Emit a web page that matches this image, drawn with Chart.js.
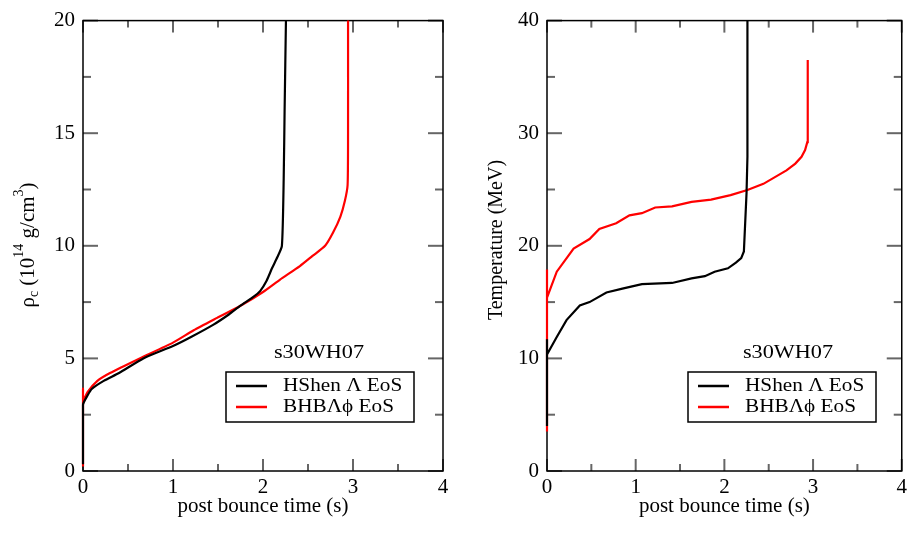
<!DOCTYPE html>
<html>
<head>
<meta charset="utf-8">
<script src="https://cdn.jsdelivr.net/npm/chart.js@4.4.0/dist/chart.umd.min.js"></script>
<style>
  body { margin: 0; background: #fff; }
  #wrap { position: relative; width: 911px; height: 538px; }
  #left { position: absolute; left: 0; top: 0; }
  #right { position: absolute; left: 460px; top: 0; }
</style>
</head>
<body>
<div id="wrap">
  <canvas id="left" width="460" height="538"></canvas>
  <canvas id="right" width="451" height="538"></canvas>
</div>
<script>
// central density, HShen Lambda EoS
const rhoShenT = [0, 0, 0.05, 0.1, 0.23, 0.4, 0.67, 1.0, 1.2, 1.45, 1.62, 1.75, 1.9, 1.97, 2.04, 2.1, 2.16, 2.21, 2.23, 2.24, 2.255];
const rhoShenV = [0.3, 2.94, 3.35, 3.65, 4.0, 4.35, 5.0, 5.55, 5.95, 6.5, 6.95, 7.34, 7.75, 8.0, 8.45, 9.0, 9.5, 10.0, 13.0, 16.0, 20];
// central density, BHB Lambda phi EoS
const rhoBhbT = [0, 0, 0, 0.05, 0.16, 0.3, 0.63, 1.0, 1.23, 1.49, 1.75, 2.0, 2.19, 2.41, 2.55, 2.69, 2.78, 2.86, 2.91, 2.94, 2.945, 2.945];
const rhoBhbV = [0.2, 3.65, 3.1, 3.5, 4.0, 4.35, 5.0, 5.7, 6.25, 6.8, 7.34, 7.95, 8.5, 9.1, 9.55, 10.0, 10.6, 11.3, 12.0, 12.7, 15, 20];
// central temperature, HShen Lambda EoS
const tempShenT = [0, 0, 0, 0.11, 0.22, 0.37, 0.48, 0.67, 0.85, 1.07, 1.41, 1.63, 1.78, 1.89, 2.04, 2.13, 2.19, 2.22, 2.25, 2.26, 2.26];
const tempShenV = [4.0, 11.7, 10.35, 11.9, 13.4, 14.7, 15.0, 15.85, 16.2, 16.6, 16.7, 17.1, 17.3, 17.7, 18.0, 18.5, 18.9, 19.5, 24.7, 27.9, 40];
// central temperature, BHB Lambda phi EoS
const tempBhbT = [0, 0, 0, 0.11, 0.30, 0.48, 0.59, 0.78, 0.93, 1.07, 1.22, 1.41, 1.63, 1.85, 2.07, 2.26, 2.44, 2.70, 2.80, 2.87, 2.91, 2.935, 2.94, 2.94];
const tempBhbV = [3.5, 17.9, 15.4, 17.7, 19.75, 20.6, 21.5, 22.0, 22.7, 22.9, 23.4, 23.5, 23.9, 24.1, 24.5, 24.96, 25.5, 26.7, 27.3, 27.9, 28.5, 29.2, 29.6, 36.5];

const seriesNames = ['HShen \u039b EoS', 'BHB\u039b\u03d5 EoS'];
const modelName = 's30WH07';
const xTitle = 'post bounce time (s)';
const tempTitle = 'Temperature (MeV)';

const SERIF = '"Liberation Serif", "DejaVu Serif", serif';

function pts(t, v) {
    return t.map((x, i) => ({ x: x, y: v[i] }));
}

function tick(ctx, x1, y1, x2, y2) {
    ctx.beginPath();
    ctx.moveTo(x1, y1);
    ctx.lineTo(x2, y2);
    ctx.stroke();
}

// frame, inward ticks, legend box, label and y-title
const decor = {
    id: 'decor',
    beforeDatasetsDraw(chart) {
        const ctx = chart.ctx;
        const a = chart.chartArea;
        const xs = chart.scales.x, ys = chart.scales.y;
        ctx.save();

        // ticks, on all four sides
        ctx.strokeStyle = '#666';
        ctx.lineWidth = 2;
        const xMaj = xs.ticks.map(t => t.value);
        const yMaj = ys.ticks.map(t => t.value);
        const xStep = xMaj[1] - xMaj[0], yStep = yMaj[1] - yMaj[0];
        xMaj.forEach((v, i) => {
            const px = xs.getPixelForValue(v);
            tick(ctx, px, a.bottom, px, a.bottom - 12);
            tick(ctx, px, a.top, px, a.top + 12);
            if (i < xMaj.length - 1) {
                const pm = xs.getPixelForValue(v + xStep / 2);
                tick(ctx, pm, a.bottom, pm, a.bottom - 7);
                tick(ctx, pm, a.top, pm, a.top + 7);
            }
        });
        yMaj.forEach((v, i) => {
            const py = ys.getPixelForValue(v);
            tick(ctx, a.left, py, a.left + 15, py);
            tick(ctx, a.right, py, a.right - 15, py);
            if (i < yMaj.length - 1) {
                const pm = ys.getPixelForValue(v + yStep / 2);
                tick(ctx, a.left, pm, a.left + 8, pm);
                tick(ctx, a.right, pm, a.right - 8, pm);
            }
        });

        // frame
        ctx.strokeStyle = '#000';
        ctx.lineWidth = 1.5;
        ctx.strokeRect(a.left, a.top, a.right - a.left, a.bottom - a.top);
        ctx.restore();
    },
    afterDatasetsDraw(chart, args, o) {
        const ctx = chart.ctx;
        ctx.save();

        // model label
        ctx.fillStyle = '#000';
        ctx.textBaseline = 'middle';
        ctx.textAlign = 'center';
        ctx.save();
        ctx.translate(o.labelX, 353);
        ctx.scale(1.17, 1);
        ctx.font = '19px ' + SERIF;
        ctx.fillText(modelName, 0, 0);
        ctx.restore();

        // legend
        const bx = o.legendX, by = 372, bw = 188, bh = 50;
        ctx.fillStyle = '#fff';
        ctx.fillRect(bx, by, bw, bh);
        ctx.strokeStyle = '#000';
        ctx.lineWidth = 1.5;
        ctx.strokeRect(bx, by, bw, bh);
        chart.data.datasets.forEach((ds, i) => {
            const ry = by + 14 + i * 21;
            ctx.strokeStyle = ds.borderColor;
            ctx.lineWidth = 2.5;
            tick(ctx, bx + 10, ry, bx + 41, ry);
            ctx.save();
            ctx.translate(bx + 57, ry);
            ctx.scale(1.18, 1);
            ctx.fillStyle = '#000';
            ctx.textAlign = 'left';
            ctx.font = '18px ' + SERIF;
            ctx.fillText(ds.label, 0, 0);
            ctx.restore();
        });

        // y title, rotated
        ctx.save();
        ctx.translate(o.titleX, o.titleY);
        ctx.rotate(-Math.PI / 2);
        ctx.fillStyle = '#000';
        ctx.textBaseline = 'middle';
        ctx.textAlign = 'left';
        if (o.rho) {
            const parts = [
                ['\u03c1', 21, 0], ['c', 14, 6], [' (10', 21, 0], ['14', 14, -9],
                [' g/cm', 21, 0], ['3', 14, -9], [')', 21, 0]
            ];
            let w = 0;
            parts.forEach(p => { ctx.font = p[1] + 'px ' + SERIF; w += ctx.measureText(p[0]).width; });
            let x = -w / 2;
            parts.forEach(p => {
                ctx.font = p[1] + 'px ' + SERIF;
                ctx.fillText(p[0], x, p[2]);
                x += ctx.measureText(p[0]).width;
            });
        } else {
            ctx.textAlign = 'center';
            ctx.font = '20px ' + SERIF;
            ctx.fillText(tempTitle, 0, 0);
        }
        ctx.restore();

        ctx.restore();
    }
};

function makeChart(id, black, red, yMax, yStep, yWidth, pad, tension, decorOpts) {
    return new Chart(document.getElementById(id), {
        type: 'line',
        data: {
            datasets: [
                { label: seriesNames[0], data: black, borderColor: '#000', borderWidth: 2.2, pointRadius: 0, tension: tension, fill: false, clip: 4 },
                { label: seriesNames[1], data: red, borderColor: '#ff0000', borderWidth: 2.2, pointRadius: 0, tension: tension, fill: false, clip: 4 }
            ]
        },
        options: {
            responsive: false,
            animation: false,
            devicePixelRatio: 1,
            layout: { padding: pad },
            plugins: { legend: { display: false }, tooltip: { enabled: false }, decor: decorOpts },
            scales: {
                x: {
                    type: 'linear', min: 0, max: 4,
                    grid: { display: false, drawTicks: false },
                    border: { display: false },
                    ticks: { stepSize: 1, padding: 4, color: '#000', maxRotation: 0, font: { family: SERIF, size: 21 } },
                    title: { display: true, text: xTitle, color: '#000', padding: { top: 0, bottom: 19 }, font: { family: SERIF, size: 21 } },
                    afterFit: s => { s.height = 67; }
                },
                y: {
                    type: 'linear', min: 0, max: yMax,
                    grid: { display: false, drawTicks: false },
                    border: { display: false },
                    ticks: { stepSize: yStep, padding: 8, color: '#000', font: { family: SERIF, size: 21 } },
                    afterFit: s => { s.width = yWidth; }
                }
            }
        },
        plugins: [decor]
    });
}

makeChart('left', pts(rhoShenT, rhoShenV), pts(rhoBhbT, rhoBhbV), 20, 5, 83,
    { left: 0, right: 17, top: 10, bottom: 0 }, 0.2,
    { labelX: 319, legendX: 226, titleX: 28, titleY: 245, rho: true });

makeChart('right', pts(tempShenT, tempShenV), pts(tempBhbT, tempBhbV), 40, 10, 87,
    { left: 0, right: 4, top: 10, bottom: 0 }, 0,
    { labelX: 328, legendX: 228, titleX: 37, titleY: 240, rho: false });
</script>
</body>
</html>
